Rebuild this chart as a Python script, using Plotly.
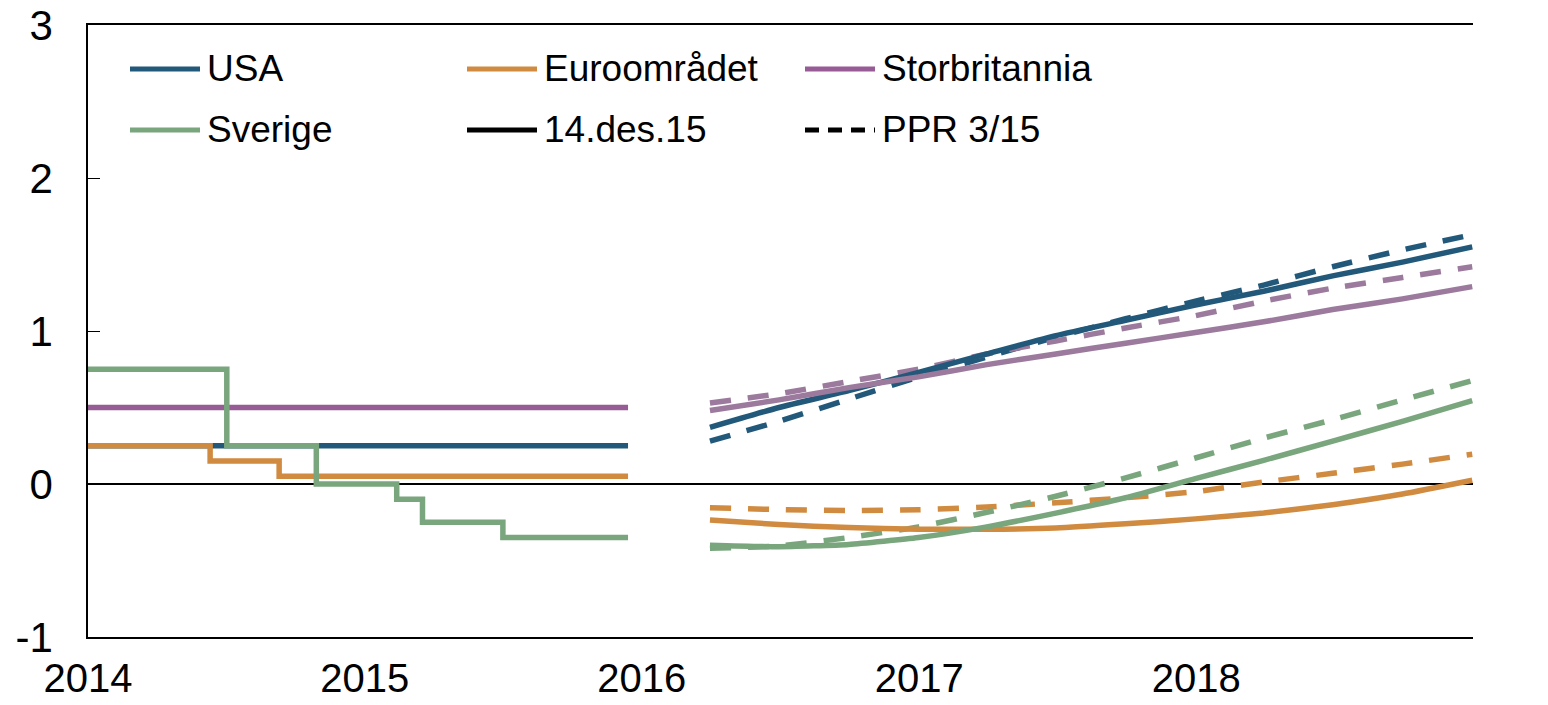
import plotly.graph_objects as go

# ---------------- data ----------------
# Historical policy rates (step changes), through 14 Dec 2015
usa_hist_dates = ["2014-01-01", "2015-12-14"]
usa_hist = [0.25, 0.25]
euro_hist_dates = ["2014-01-01", "2014-06-11", "2014-09-10", "2015-12-14"]
euro_hist = [0.25, 0.15, 0.05, 0.05]
uk_hist_dates = ["2014-01-01", "2015-12-14"]
uk_hist = [0.5, 0.5]
swe_hist_dates = ["2014-01-01", "2014-07-03", "2014-10-29", "2015-02-12",
                  "2015-03-18", "2015-07-02", "2015-12-14"]
swe_hist = [0.75, 0.25, 0.0, -0.10, -0.25, -0.35, -0.35]

# Market-implied forward rates (quarterly)
fc_dates = ["2016-03-31", "2016-06-30", "2016-09-30", "2016-12-31",
            "2017-03-31", "2017-06-30", "2017-09-30", "2017-12-31",
            "2018-03-31", "2018-06-30", "2018-09-30", "2018-12-31"]
# 14.des.15
usa_dec = [0.37, 0.50, 0.61, 0.73, 0.85, 0.97, 1.07, 1.17, 1.26, 1.36, 1.45, 1.55]
euro_dec = [-0.235, -0.265, -0.285, -0.295, -0.296, -0.287, -0.26, -0.228, -0.19, -0.135, -0.065, 0.025]
uk_dec = [0.48, 0.55, 0.63, 0.70, 0.78, 0.85, 0.92, 0.99, 1.06, 1.14, 1.21, 1.29]
swe_dec = [-0.40, -0.41, -0.395, -0.35, -0.28, -0.19, -0.09, 0.035, 0.155, 0.28, 0.41, 0.545]
# PPR 3/15
usa_ppr = [0.28, 0.41, 0.555, 0.70, 0.83, 0.96, 1.08, 1.195, 1.30, 1.42, 1.53, 1.63]
euro_ppr = [-0.155, -0.167, -0.173, -0.168, -0.15, -0.123, -0.09, -0.05, 0.013, 0.07, 0.13, 0.195]
uk_ppr = [0.53, 0.59, 0.67, 0.75, 0.85, 0.935, 1.02, 1.10, 1.195, 1.28, 1.35, 1.42]
swe_ppr = [-0.42, -0.405, -0.35, -0.28, -0.185, -0.08, 0.04, 0.17, 0.30, 0.42, 0.55, 0.675]

year_ticks = ["2014-01-01", "2015-01-01", "2016-01-01", "2017-01-01", "2018-01-01"]
year_labels = ["2014", "2015", "2016", "2017", "2018"]
y_ticks = [-1, 0, 1, 2, 3]
y_labels = ["-1", "0", "1", "2", "3"]
y_labels_right = ["-1", "\u00a00", "\u00a01", "\u00a02", "\u00a03"]

legend_names = ["USA", "Euroområdet", "Storbritannia", "Sverige", "14.des.15", "PPR 3/15"]

# ---------------- style ----------------
BLUE = "#22597A"
ORANGE = "#D08B40"
PURPLE = "#975B95"
PURPLE_FC = "#9C7A9E"
GREEN = "#7AA67E"
FONT = "Liberation Sans, Arial, sans-serif"
W, H = 1548, 705
ML, MR, MT, MB = 88, 75, 25, 68
LW = 5.5
DASH = "21px,17px"
TICKFONT = 42
XTICKFONT = 40

fig = go.Figure()

hist = [(usa_hist_dates, usa_hist, BLUE), (euro_hist_dates, euro_hist, ORANGE),
        (uk_hist_dates, uk_hist, PURPLE), (swe_hist_dates, swe_hist, GREEN)]
for d, v, c in hist:
    fig.add_trace(go.Scatter(x=d, y=v, mode="lines", line=dict(color=c, width=LW, shape="hv"),
                             showlegend=False, hoverinfo="skip"))

fc = [(usa_dec, usa_ppr, BLUE), (euro_dec, euro_ppr, ORANGE),
      (uk_dec, uk_ppr, PURPLE_FC), (swe_dec, swe_ppr, GREEN)]
for dec, ppr, c in fc:
    fig.add_trace(go.Scatter(x=fc_dates, y=ppr, mode="lines",
                             line=dict(color=c, width=LW, dash=DASH, shape="spline", smoothing=0.5),
                             showlegend=False))
for dec, ppr, c in fc:
    fig.add_trace(go.Scatter(x=fc_dates, y=dec, mode="lines",
                             line=dict(color=c, width=LW, shape="spline", smoothing=0.5),
                             showlegend=False))

# ---------------- manual legend (long line samples) ----------------
pw = W - ML - MR
ph = H - MT - MB


def px2x(px):
    return (px - ML) / pw


def py2y(py):
    return (H - MB - py) / ph


leg_cols = [130, 467, 805]
leg_rows = [69, 130]
leg_colors = [BLUE, ORANGE, PURPLE, GREEN, "black", "black"]
leg_dash = ["solid", "solid", "solid", "solid", "solid", "14px,9px"]
for i, name in enumerate(legend_names):
    cx = leg_cols[i % 3]
    ry = leg_rows[i // 3]
    fig.add_shape(type="line", xref="paper", yref="paper",
                  x0=px2x(cx), x1=px2x(cx + 70), y0=py2y(ry), y1=py2y(ry),
                  line=dict(color=leg_colors[i], width=5, dash=leg_dash[i]))
    fig.add_annotation(xref="paper", yref="paper", x=px2x(cx + 75), y=py2y(ry),
                       xanchor="left", yanchor="middle", text=name, showarrow=False,
                       font=dict(size=37, color="black", family=FONT))

fig.update_layout(
    width=W, height=H,
    margin=dict(l=ML, r=MR, t=MT, b=MB),
    paper_bgcolor="white", plot_bgcolor="white",
    font=dict(family=FONT, size=TICKFONT, color="black"),
    showlegend=False,
    xaxis=dict(type="date", range=["2014-01-01", "2019-01-01"], automargin=False,
               tickvals=year_ticks, ticktext=year_labels,
               showline=True, linecolor="black", linewidth=1.5, mirror=True,
               ticks="", showgrid=False, zeroline=False, ticklabelstandoff=5,
               tickfont=dict(size=XTICKFONT)),
    yaxis=dict(range=[-1, 3], tickvals=y_ticks, ticktext=y_labels, automargin=False,
               showline=True, linecolor="black", linewidth=1.5,
               ticks="inside", ticklen=12, tickcolor="black", tickwidth=1,
               showgrid=False, zeroline=True, zerolinecolor="black", zerolinewidth=1.5,
               ticklabelstandoff=25, tickfont=dict(size=TICKFONT)),
    yaxis2=dict(range=[-1, 3], overlaying="y", side="right", anchor="x", automargin=False,
                tickvals=y_ticks, ticktext=y_labels_right,
                showline=True, linecolor="#999999", linewidth=1.5,
                ticks="inside", ticklen=12, tickcolor="#999999", tickwidth=1,
                showgrid=False, zeroline=False, ticklabelstandoff=18,
                tickfont=dict(size=TICKFONT)),
)

fig.write_html("out.html", config={"displayModeBar": False},
               post_script="document.body.style.margin='0';document.body.style.overflow='hidden';")
